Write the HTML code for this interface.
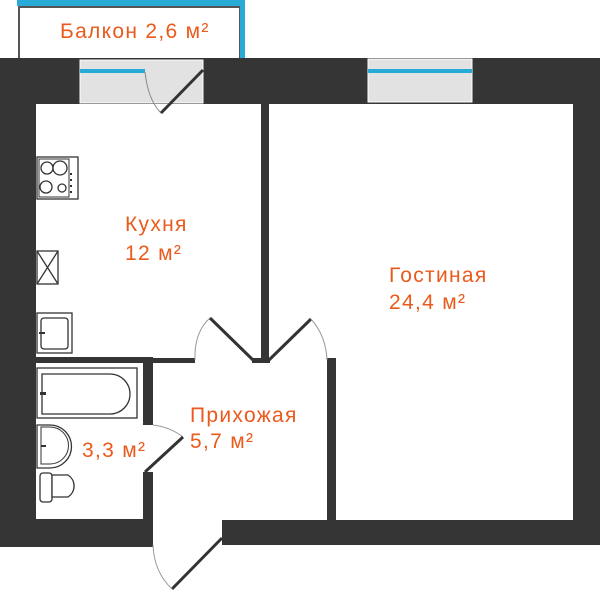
<!DOCTYPE html>
<html><head><meta charset="utf-8"><style>
html,body{margin:0;padding:0;background:#fff}
svg{display:block}
text{font-family:"Liberation Sans",sans-serif;fill:#ea5a1c;font-size:21px;letter-spacing:1.3px}
</style></head><body>
<svg width="600" height="591" viewBox="0 0 600 591" xmlns="http://www.w3.org/2000/svg">
<!-- balcony -->
<rect x="19" y="7" width="221" height="52" fill="#fff" stroke="#555" stroke-width="2"/>
<rect x="17" y="0" width="228" height="6" fill="#29abd8"/>
<rect x="240" y="0" width="5" height="59" fill="#29abd8"/>
<text x="60" y="38">Балкон 2,6 м²</text>
<!-- walls -->
<g fill="#353535">
<rect x="0" y="58" width="600" height="46"/>
<rect x="0" y="58" width="36" height="489"/>
<rect x="573" y="58" width="27" height="487"/>
<rect x="0" y="519" width="153" height="28"/>
<rect x="222" y="520" width="378" height="25"/>
<rect x="36" y="357" width="117" height="6"/>
<rect x="153" y="358" width="42" height="5"/>
<rect x="143" y="357" width="10" height="68"/>
<rect x="143" y="472" width="10" height="48"/>
<rect x="261" y="104" width="8" height="256"/>
<rect x="252" y="358" width="18" height="5"/>
<rect x="327" y="358" width="9" height="162"/>
</g>
<!-- windows -->
<rect x="80" y="60" width="123" height="43" fill="#e2e2e2" stroke="#fff" stroke-width="1"/>
<rect x="80" y="69" width="65" height="4" fill="#29abd8"/>
<rect x="368" y="59" width="104" height="43" fill="#e2e2e2" stroke="#fff" stroke-width="1"/>
<rect x="368" y="69" width="104" height="4" fill="#29abd8"/>
<!-- doors -->
<g fill="none">
<path d="M145 72 Q148 100 161 113" stroke="#888" stroke-width="1"/>
<line x1="161" y1="113" x2="203" y2="70" stroke="#333" stroke-width="3"/>
<path d="M195 360 Q194 332 210 318" stroke="#999" stroke-width="1"/>
<line x1="210" y1="318" x2="253" y2="360" stroke="#333" stroke-width="3"/>
<line x1="269" y1="360" x2="311" y2="319" stroke="#333" stroke-width="3"/>
<path d="M311 319 Q326 336 327 360" stroke="#999" stroke-width="1"/>
<path d="M153 425 Q170 427 183 437" stroke="#999" stroke-width="1"/>
<line x1="183" y1="437" x2="145" y2="472" stroke="#333" stroke-width="3"/>
<line x1="222" y1="538" x2="172" y2="589" stroke="#333" stroke-width="3"/>
<path d="M153 545 Q154 572 172 589" stroke="#999" stroke-width="1"/>
</g>
<!-- fixtures -->
<g fill="#fff" stroke="#333" stroke-width="1.3">
<rect x="37" y="157" width="41" height="42"/>
<rect x="39" y="159" width="30" height="38" stroke-width="1"/>
<circle cx="47" cy="168" r="6"/><circle cx="60" cy="168" r="7"/>
<circle cx="46" cy="187" r="6"/><circle cx="62" cy="188" r="4"/>
<rect x="37" y="251" width="21" height="33"/>
<path d="M37 251 L58 284 M58 251 L37 284" fill="none"/>
<rect x="37" y="313" width="35" height="40"/>
<rect x="41" y="318" width="27" height="31" rx="3"/>
<rect x="37" y="368" width="100" height="50"/>
<path d="M42 374 H110 A20 20 0 0 1 110 414 H42 Z"/>
<path d="M37 425 H50 A18 18 0 0 1 50 468 H37 Z"/>
<path d="M41 427 H50 A15 15 0 0 1 50 464 H41 Z" stroke-width="1"/>
<rect x="40" y="473" width="12" height="29" rx="3"/>
<path d="M52 475 H68 A13 13 0 0 1 68 497 H52 Z"/>
</g>
<g fill="#333">
<rect x="70" y="173" width="2" height="2"/><rect x="70" y="179" width="2" height="2"/><rect x="70" y="185" width="2" height="2"/><rect x="70" y="191" width="2" height="2"/>
<rect x="39" y="332" width="6" height="2"/>
<rect x="40" y="392" width="6" height="3"/>
<rect x="41" y="445" width="5" height="2"/>
</g>
<!-- labels -->
<text x="125" y="231">Кухня</text>
<text x="125" y="260">12 м²</text>
<text x="389" y="282">Гостиная</text>
<text x="389" y="309">24,4 м²</text>
<text x="190" y="422">Прихожая</text>
<text x="190" y="448">5,7 м²</text>
<text x="82" y="457">3,3 м²</text>
</svg>
</body></html>
